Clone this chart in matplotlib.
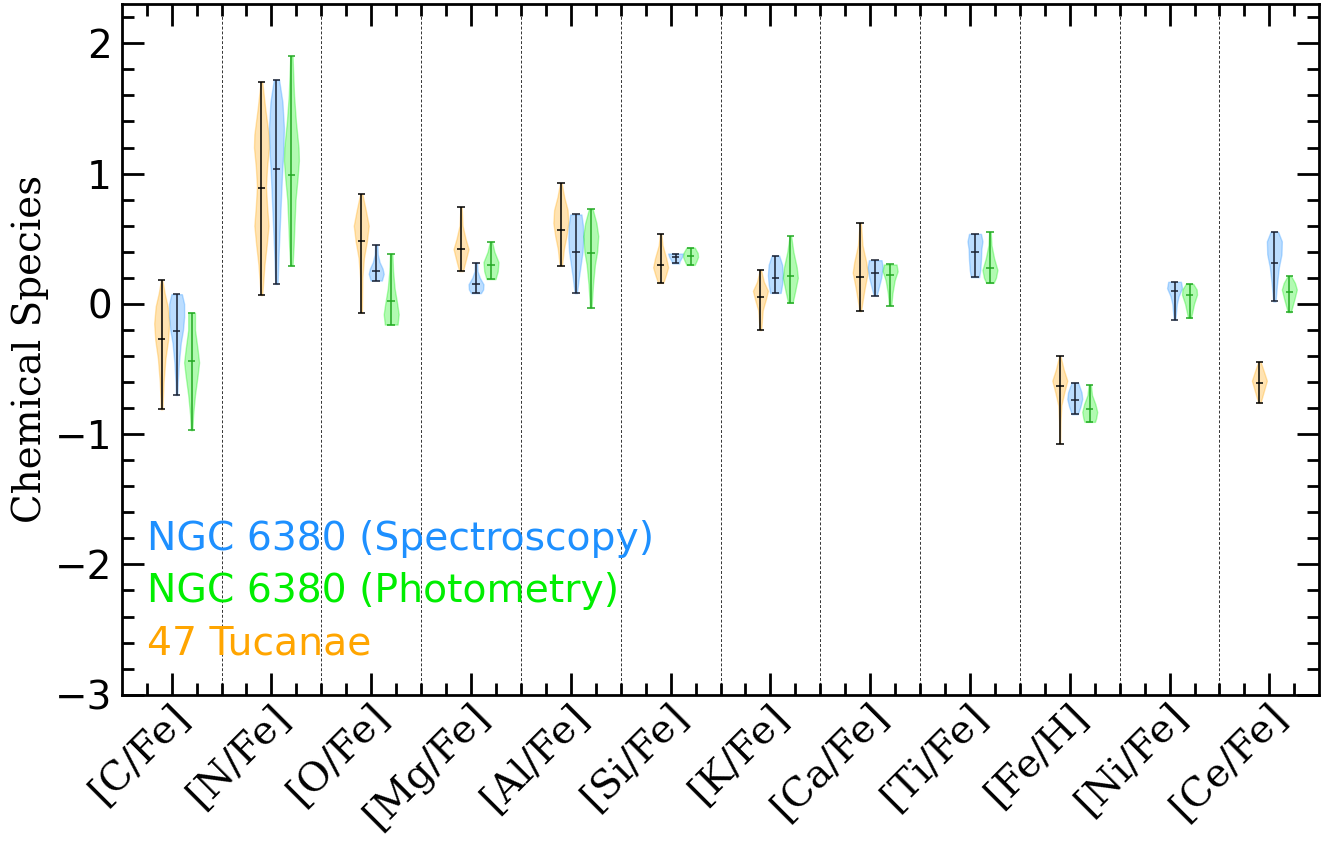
import numpy as np
import matplotlib
matplotlib.use("Agg")
import matplotlib.pyplot as plt
import matplotlib.transforms as mtransforms

species = ["[C/Fe]", "[N/Fe]", "[O/Fe]", "[Mg/Fe]", "[Al/Fe]", "[Si/Fe]",
           "[K/Fe]", "[Ca/Fe]", "[Ti/Fe]", "[Fe/H]", "[Ni/Fe]", "[Ce/Fe]"]

# 47 Tucanae: min, median, max per species (None = no data)
tuc_min = [-0.81, 0.067, -0.067, 0.251, 0.292, 0.161, -0.202, -0.056, None, -1.074, None, -0.76]
tuc_med = [-0.27, 0.893, 0.486, 0.422, 0.57, 0.299, 0.056, 0.205, None, -0.629, None, -0.604]
tuc_max = [0.18, 1.706, 0.84, 0.744, 0.926, 0.537, 0.256, 0.622, None, -0.404, None, -0.443]
# violin outline: (value, relative width)
tuc_shape = [
    [(0.18, 0.1), (0.08, 0.4), (-0.02, 0.8), (-0.15, 1.0), (-0.28, 0.85), (-0.42, 0.5), (-0.6, 0.25), (-0.81, 0.1)],
    [(1.706, 0.1), (1.5, 0.5), (1.3, 0.95), (1.2, 1.0), (1.05, 0.75), (0.9, 0.6), (0.75, 0.75), (0.6, 0.95), (0.45, 0.7), (0.3, 0.4), (0.067, 0.1)],
    [(0.84, 0.15), (0.72, 0.6), (0.6, 1.0), (0.48, 0.75), (0.35, 0.35), (0.2, 0.15), (-0.067, 0.08)],
    [(0.744, 0.08), (0.6, 0.2), (0.5, 0.6), (0.42, 1.0), (0.35, 0.7), (0.251, 0.25)],
    [(0.926, 0.1), (0.82, 0.45), (0.72, 0.9), (0.62, 1.0), (0.52, 0.75), (0.42, 0.4), (0.292, 0.15)],
    [(0.537, 0.1), (0.45, 0.25), (0.35, 0.75), (0.28, 1.0), (0.22, 0.7), (0.161, 0.35)],
    [(0.256, 0.1), (0.17, 0.45), (0.1, 1.0), (0.04, 0.75), (-0.05, 0.3), (-0.202, 0.1)],
    [(0.622, 0.08), (0.45, 0.3), (0.32, 0.8), (0.24, 1.0), (0.12, 0.6), (0.0, 0.25), (-0.056, 0.1)],
    None,
    [(-0.404, 0.1), (-0.5, 0.5), (-0.59, 1.0), (-0.68, 0.6), (-0.78, 0.2), (-0.9, 0.1), (-1.074, 0.05)],
    None,
    [(-0.443, 0.15), (-0.52, 0.6), (-0.59, 1.0), (-0.67, 0.6), (-0.76, 0.15)],
]

# NGC 6380 spectroscopy
spec_min = [-0.70, 0.153, 0.179, 0.082, 0.082, 0.31, 0.084, 0.064, 0.205, -0.847, -0.123, 0.018]
spec_med = [-0.21, 1.034, 0.25, 0.151, 0.40, 0.358, 0.197, 0.24, 0.397, -0.737, 0.1, 0.317]
spec_max = [0.074, 1.72, 0.455, 0.317, 0.686, 0.386, 0.37, 0.335, 0.537, -0.606, 0.169, 0.553]
spec_shape = [
    [(0.074, 0.7), (0.0, 1.0), (-0.1, 1.0), (-0.2, 0.85), (-0.3, 0.55), (-0.45, 0.3), (-0.6, 0.15), (-0.70, 0.1)],
    [(1.72, 0.35), (1.55, 0.8), (1.35, 1.0), (1.15, 0.9), (1.0, 0.75), (0.8, 0.6), (0.6, 0.45), (0.4, 0.3), (0.153, 0.15)],
    [(0.455, 0.15), (0.38, 0.2), (0.32, 0.45), (0.27, 0.85), (0.23, 1.0), (0.179, 0.75)],
    [(0.317, 0.15), (0.25, 0.2), (0.2, 0.5), (0.15, 1.0), (0.11, 0.95), (0.082, 0.65)],
    [(0.686, 0.75), (0.6, 0.95), (0.5, 1.0), (0.4, 0.9), (0.3, 0.65), (0.2, 0.4), (0.082, 0.15)],
    [(0.386, 1.0), (0.36, 0.85), (0.33, 0.55), (0.31, 0.45)],
    [(0.37, 0.5), (0.3, 0.9), (0.22, 1.0), (0.15, 0.9), (0.084, 0.7)],
    [(0.335, 0.85), (0.28, 1.0), (0.2, 0.8), (0.12, 0.45), (0.064, 0.2)],
    [(0.537, 0.8), (0.48, 1.0), (0.42, 0.85), (0.34, 0.8), (0.26, 0.7), (0.205, 0.55)],
    [(-0.606, 0.45), (-0.68, 0.9), (-0.73, 1.0), (-0.79, 0.75), (-0.847, 0.4)],
    [(0.169, 0.85), (0.12, 1.0), (0.06, 0.55), (0.0, 0.3), (-0.123, 0.1)],
    [(0.553, 0.5), (0.48, 1.0), (0.38, 0.95), (0.28, 0.6), (0.15, 0.35), (0.018, 0.15)],
]

# NGC 6380 photometry
phot_min = [-0.97, 0.294, -0.159, 0.19, -0.031, 0.299, 0.008, -0.013, 0.161, -0.906, -0.107, -0.064]
phot_med = [-0.44, 0.99, 0.02, 0.30, 0.389, 0.371, 0.215, 0.223, 0.274, -0.81, 0.067, 0.092]
phot_max = [-0.067, 1.90, 0.386, 0.476, 0.727, 0.432, 0.52, 0.302, 0.553, -0.622, 0.153, 0.212]
phot_shape = [
    [(-0.067, 0.45), (-0.2, 0.45), (-0.35, 0.8), (-0.45, 1.0), (-0.55, 0.8), (-0.7, 0.45), (-0.85, 0.2), (-0.97, 0.1)],
    [(1.90, 0.15), (1.6, 0.35), (1.4, 0.6), (1.2, 0.95), (1.1, 1.0), (0.95, 0.8), (0.8, 0.55), (0.6, 0.4), (0.45, 0.3), (0.294, 0.15)],
    [(0.386, 0.15), (0.25, 0.25), (0.12, 0.45), (0.0, 0.8), (-0.08, 1.0), (-0.159, 0.85)],
    [(0.476, 0.15), (0.4, 0.45), (0.32, 1.0), (0.25, 0.9), (0.19, 0.6)],
    [(0.727, 0.25), (0.62, 0.75), (0.52, 1.0), (0.4, 0.85), (0.3, 0.55), (0.15, 0.3), (-0.031, 0.1)],
    [(0.432, 0.55), (0.39, 0.95), (0.36, 1.0), (0.33, 0.8), (0.299, 0.55)],
    [(0.52, 0.1), (0.4, 0.4), (0.28, 0.85), (0.2, 1.0), (0.1, 0.65), (0.008, 0.3)],
    [(0.302, 0.85), (0.25, 1.0), (0.18, 0.6), (0.08, 0.3), (-0.013, 0.15)],
    [(0.553, 0.1), (0.45, 0.2), (0.35, 0.55), (0.26, 1.0), (0.2, 0.8), (0.161, 0.5)],
    [(-0.622, 0.15), (-0.7, 0.3), (-0.77, 0.75), (-0.83, 1.0), (-0.88, 0.85), (-0.906, 0.7)],
    [(0.153, 0.5), (0.11, 0.95), (0.07, 1.0), (0.0, 0.6), (-0.107, 0.2)],
    [(0.212, 0.25), (0.16, 0.75), (0.11, 1.0), (0.04, 0.7), (-0.064, 0.2)],
]


def make_stats(mins, meds, maxs, shapes):
    stats, idx = [], []
    for i, sh in enumerate(shapes):
        if sh is None:
            continue
        arr = np.array(sh)[::-1]
        stats.append(dict(coords=arr[:, 0], vals=arr[:, 1], mean=meds[i],
                          median=meds[i], min=mins[i], max=maxs[i]))
        idx.append(i)
    return stats, np.array(idx)


def draw(ax, stats, pos, fill, line):
    parts = ax.violin(stats, positions=pos, widths=0.15, showmeans=False,
                      showextrema=True, showmedians=True)
    for b in parts['bodies']:
        b.set_facecolor(fill)
        b.set_edgecolor(fill)
        b.set_alpha(0.3)
    for k in ('cbars', 'cmins', 'cmaxes', 'cmedians'):
        parts[k].set_color(line)
        parts[k].set_linewidth(1.1)


fig, ax = plt.subplots(figsize=(13.38, 8.41), dpi=100)
fig.subplots_adjust(left=0.091, right=0.986, top=0.995, bottom=0.174)

st, ix = make_stats(tuc_min, tuc_med, tuc_max, tuc_shape)
draw(ax, st, ix - 0.1, '#FFA500', 'black')
st, ix = make_stats(spec_min, spec_med, spec_max, spec_shape)
draw(ax, st, ix + 0.05, '#1E90FF', '#1a2030')
st, ix = make_stats(phot_min, phot_med, phot_max, phot_shape)
draw(ax, st, ix + 0.2, '#00F000', '#22a822')

for i in range(len(species) - 1):
    ax.axvline(i + 0.5, color='k', lw=0.7, ls=(0, (3, 2)), alpha=0.8, zorder=0)

ax.set_xlim(-0.5, 11.5)
ax.set_ylim(-3, 2.3)
ax.set_xticks(range(len(species)))
ax.set_xticklabels([])
# rotated species labels, nudged right of each tick like the original
lab_trans = (mtransforms.blended_transform_factory(ax.transData, ax.transAxes)
             + mtransforms.ScaledTranslation(0.115, -0.15, fig.dpi_scale_trans))
for i, name in enumerate(species):
    ax.text(i, 0, name, transform=lab_trans, rotation=45, ha='right', va='center',
            rotation_mode='anchor', family='DejaVu Serif', fontsize=28.5, clip_on=False)
ax.set_xticks(np.arange(-0.25, 11.5, 0.25), minor=True)
ax.set_yticks([-3, -2, -1, 0, 1, 2])
ax.set_yticks(np.arange(-3, 2.31, 0.2), minor=True)
ax.tick_params(which='both', direction='in', top=True, right=True, width=2)
ax.tick_params(which='major', length=16, labelsize=28)
ax.tick_params(axis='y', which='major', pad=7)
ax.tick_params(which='minor', length=8.5)
for s in ax.spines.values():
    s.set_linewidth(2)
ax.set_ylabel('Chemical Species', family='DejaVu Serif', fontsize=28, labelpad=4)

legend_labels = ["NGC 6380 (Spectroscopy)", "NGC 6380 (Photometry)", "47 Tucanae"]
legend_colors = ['#1E90FF', '#00EE00', '#FFA500']
legend_y = [0.209, 0.134, 0.058]
for lab, c, yy in zip(legend_labels, legend_colors, legend_y):
    ax.text(0.021, yy, lab, color=c, fontsize=28.3, transform=ax.transAxes,
            va='baseline', ha='left')

fig.savefig('out.png', dpi=100)
